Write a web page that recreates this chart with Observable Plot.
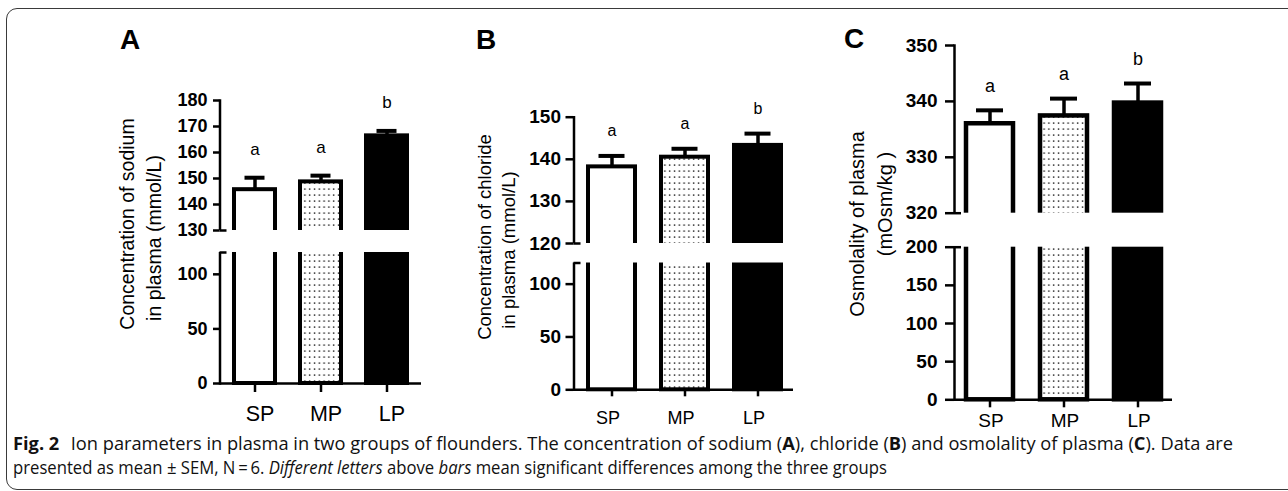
<!DOCTYPE html>
<html><head><meta charset="utf-8">
<script src="https://cdn.jsdelivr.net/npm/d3@7"></script>
<script src="https://cdn.jsdelivr.net/npm/@observablehq/plot@0.6"></script>
<style>
html,body{margin:0;padding:0;background:#fff;}
#fig{position:relative;width:1288px;height:491px;overflow:hidden;background:#fff;font-family:"Liberation Sans",Arial,sans-serif;}
#fig svg{position:absolute;left:0;top:0;}
.lbl{position:absolute;white-space:nowrap;line-height:1;color:#000;}
.border{position:absolute;left:6px;top:8px;width:1400px;height:482px;border:1.4px solid #3a3a3a;border-radius:11px;box-sizing:border-box;}
.cap{position:absolute;left:13px;white-space:nowrap;font-family:"Open Sans","Noto Sans",sans-serif;font-size:17.5px;line-height:24px;color:#111;transform-origin:0 50%;}
</style></head><body><div id="fig"><div class="border"></div></div><script>
// ---- data ----
const groups = ["SP", "MP", "LP"];
const letters = ["a", "a", "b"];
const sodiumMean = [145.7, 148.7, 166.4];
const sodiumSem = [4.6, 2.4, 1.9];
const chlorideMean = [138.2, 140.5, 143.3];
const chlorideSem = [2.6, 2.0, 2.8];
const osmoMean = [336.0, 337.4, 339.7];
const osmoSem = [2.4, 3.1, 3.5];
const sodiumTicks = [0, 50, 100, 130, 140, 150, 160, 170, 180];
const chlorideTicks = [0, 50, 100, 120.001, 130, 140, 150];
const osmoTicks = [0, 50, 100, 150, 200, 320, 330, 340, 350];
const sodiumBreak = [120, 130];
const chlorideBreak = [120, 120.001];
const osmoBreak = [200, 320];

// ---- layout / style ----
const W = 1288, H = 440;
const groupFill = {SP: "#fff", MP: "url(#dots)", LP: "#000"};
const panels = [
  {means: sodiumMean, sems: sodiumSem, ticks: sodiumTicks, brk: sodiumBreak,
   yDomain: [0, sodiumBreak[0], sodiumBreak[1], 180], yRange: [383, 252, 230, 100],
   left: 219.5, right: 421, xRange: [220.75, 420.25], pad: 0.3835, bw: 4,
   ySize: 6.5, yPad: 6, tickFont: 18, xFont: 21.5, xTick: 9, xPad: 13, xDx: 5,
   letterFont: 17, letterDy: -28.5, capInset: 10.5},
  {means: chlorideMean, sems: chlorideSem, ticks: chlorideTicks, brk: chlorideBreak,
   yDomain: [0, chlorideBreak[0], chlorideBreak[1], 150], yRange: [389.3, 262.5, 243, 116.7],
   left: 573.5, right: 793, xRange: [574.25, 794.75], pad: 0.3605, bw: 4,
   ySize: 8, yPad: 5, tickFont: 19, xFont: 18, xTick: 7, xPad: 14, xDx: -4,
   letterFont: 16, letterDy: -25, capInset: 10.5},
  {means: osmoMean, sems: osmoSem, ticks: osmoTicks, brk: osmoBreak,
   yDomain: [0, osmoBreak[0], osmoBreak[1], 350], yRange: [399.3, 246.7, 212.7, 45],
   left: 954, right: 1172, xRange: [952.25, 1175.75], pad: 0.362, bw: 4.5,
   ySize: 9, yPad: 8, tickFont: 19, xFont: 19, xTick: 8, xPad: 6, xDx: 1,
   letterFont: 18, letterDy: -24, capInset: 10}
];

const fig = document.getElementById("fig");

panels.forEach((P, k) => {
  const rows = groups.map((g, i) => ({group: g, mean: P.means[i], sem: P.sems[i], letter: letters[i]}));
  const dotId = "dots" + k;
  const svg = Plot.plot({
    width: W, height: H,
    marginLeft: P.left, marginRight: W - P.right,
    marginTop: P.yRange[3], marginBottom: H - P.yRange[0],
    style: {background: "transparent", fontFamily: "'Liberation Sans', Arial, sans-serif", color: "#000", overflow: "visible"},
    x: {type: "band", domain: groups, range: P.xRange, paddingInner: P.pad, paddingOuter: P.pad / 2, align: 0.5, axis: null},
    y: {type: "linear", domain: P.yDomain, range: P.yRange, axis: null},
    color: {type: "identity"},
    marks: [
      Plot.barY(rows, {x: "group", y1: () => 0, y2: "mean",
        fill: d => groupFill[d.group].replace("#dots", "#" + dotId),
        stroke: "#000", strokeWidth: P.bw}),
      Plot.frame({anchor: "left", strokeWidth: 2.5, stroke: "#000"}),
      Plot.ruleY([0], {strokeWidth: 2.5, stroke: "#000"}),
      Plot.rect([P.brk], {y1: d => d[0], y2: d => d[1], fill: "#fff", insetLeft: -6, insetRight: -3}),
      Plot.axisY({ticks: P.ticks, tickSize: P.ySize, tickPadding: P.yPad, strokeWidth: 2.5,
        fontSize: P.tickFont, fontWeight: "bold", tickFormat: d => Math.round(d), label: null}),
      Plot.axisY({ticks: P.brk, tickSize: 7, dx: 7, strokeWidth: 2.5, tickFormat: () => "", label: null}),
      Plot.axisX({tickSize: P.xTick, strokeWidth: 2.5, tickFormat: () => "", label: null}),
      Plot.axisX({tickSize: 0, tickPadding: P.xTick + P.xPad, dx: P.xDx, fontSize: P.xFont, label: null}),
      Plot.ruleX(rows, {x: "group", y1: "mean", y2: d => d.mean + d.sem, strokeWidth: 3.5, stroke: "#000"}),
      Plot.tickY(rows, {x: "group", y: d => d.mean + d.sem, strokeWidth: 4, inset: P.capInset, stroke: "#000"}),
      Plot.text(rows, {x: "group", y: d => d.mean + d.sem, text: "letter", dy: P.letterDy, fontSize: P.letterFont, fill: "#000"})
    ]
  });
  const s = d3.select(svg);
  const defs = s.insert("defs", ":first-child");
  const p = defs.append("pattern").attr("id", dotId).attr("patternUnits", "userSpaceOnUse").attr("width", 4.8).attr("height", 6);
  p.append("rect").attr("width", 4.8).attr("height", 6).attr("fill", "#fff");
  p.append("rect").attr("x", 1.8).attr("y", 2.4).attr("width", 1.4).attr("height", 1.4).attr("fill", "#111");
  fig.appendChild(svg);
});

// ---- text labels (HTML) ----
function addLabel(text, css) {
  const d = document.createElement("div");
  d.className = "lbl";
  d.textContent = text;
  Object.assign(d.style, css);
  fig.appendChild(d);
  return d;
}
const panelLetters = ["A", "B", "C"];
[[120, 26.3], [476, 26.3], [844, 24.8]].forEach(([x, y], i) =>
  addLabel(panelLetters[i], {left: x + "px", top: y + "px", fontSize: "28px", fontWeight: "bold"}));

const titles = [
  ["Concentration of sodium", 127.5, 223.5, 19.5],
  ["in plasma (mmol/L)", 155, 237.5, 19.5],
  ["Concentration of chloride", 485, 237, 18.5],
  ["in plasma (mmol/L)", 509, 250, 18.5],
  ["Osmolality of plasma", 857, 224, 20],
  ["(mOsm/kg )", 885, 203.5, 20]
];
titles.forEach(([t, cx, cy, fs]) =>
  addLabel(t, {left: cx + "px", top: cy + "px", fontSize: fs + "px",
    transform: "translate(-50%,-50%) rotate(-90deg)"}));

// ---- caption ----
const cap1 = document.createElement("div");
cap1.className = "cap";
cap1.style.top = "431px";
cap1.innerHTML = '<b>Fig. 2</b><span style="display:inline-block;width:11px"></span>Ion parameters in plasma in two groups of flounders. The concentration of sodium (<b>A</b>), chloride (<b>B</b>) and osmolality of plasma (<b>C</b>). Data are';
const cap2 = document.createElement("div");
cap2.className = "cap";
cap2.style.top = "455px";
cap2.innerHTML = 'presented as mean \u00b1 SEM, N\u2009=\u20096. <i>Different letters</i> above <i>bars</i> mean significant differences among the three groups';
fig.appendChild(cap1);
fig.appendChild(cap2);
function fitCaps() {
  [[cap1, 1220], [cap2, 874]].forEach(([el, w]) => {
    el.style.transform = "none";
    const cw = el.getBoundingClientRect().width;
    el.style.transform = "scaleX(" + (w / cw) + ")";
  });
}
fitCaps();
if (document.fonts && document.fonts.ready) document.fonts.ready.then(fitCaps);
</script></body></html>
